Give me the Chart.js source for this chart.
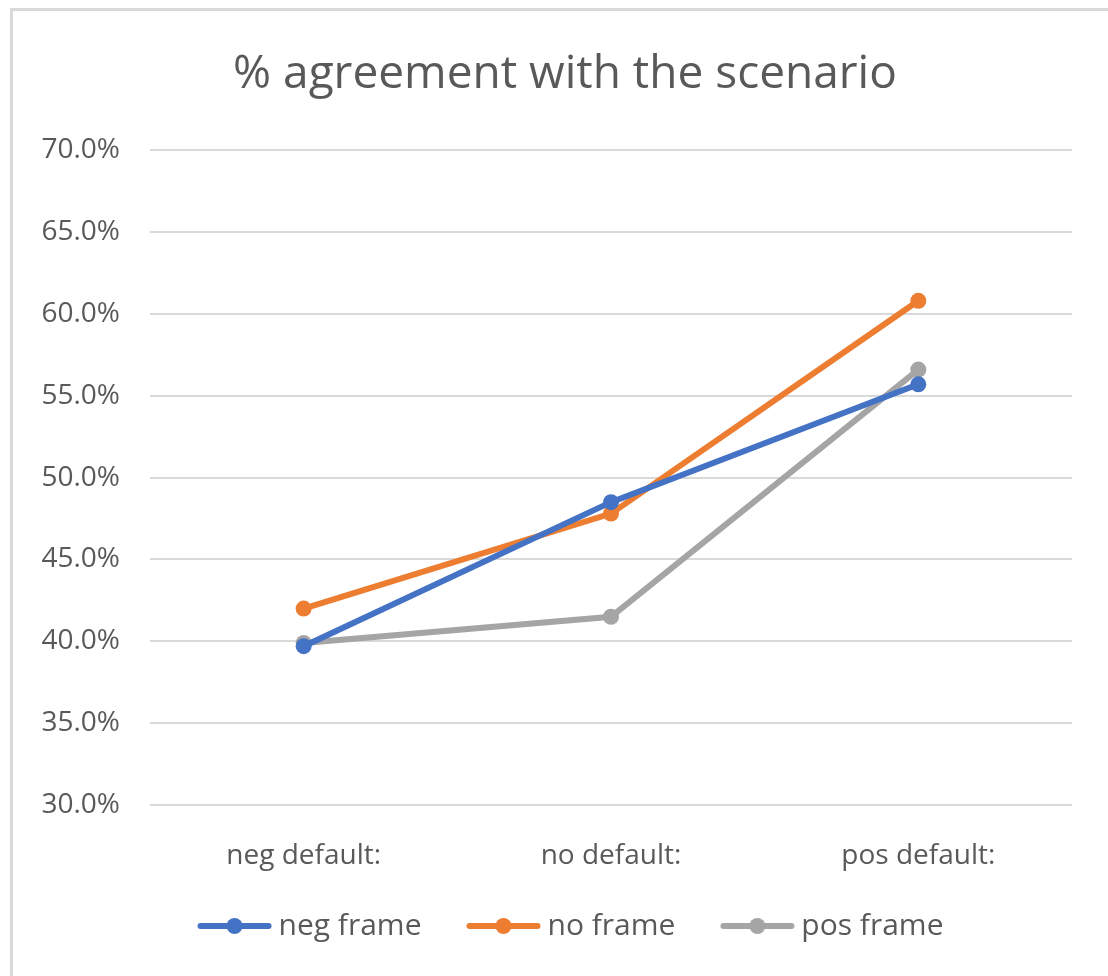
<!DOCTYPE html>
<html>
<head>
<meta charset="utf-8">
<script src="https://cdn.jsdelivr.net/npm/chart.js@4"></script>
<style>
  html, body { margin: 0; padding: 0; background: #fff; overflow: hidden; }
  #frame {
    position: absolute; left: 10px; top: 8px;
    width: 1104px; height: 980px;
    border: 3px solid #d9d9d9; background: #fff;
  }
  #wrap { position: absolute; left: 0; top: 0; width: 1104px; height: 966px; }
</style>
</head>
<body>
<div id="frame"><div id="wrap"><canvas id="chartData"></canvas></div></div>
<script>
var categories = ['neg default:', 'no default:', 'pos default:'];
var seriesNames = ['neg frame', 'no frame', 'pos frame'];
var negFrame = [39.7, 48.5, 55.7];
var noFrame = [42.0, 47.8, 60.8];
var posFrame = [39.9, 41.5, 56.6];
var yTicks = [30, 35, 40, 45, 50, 55, 60, 65, 70];
var colors = ['#4472c4', '#ed7d31', '#a5a5a5'];

var fontFamily = '"Open Sans", "Noto Sans", sans-serif';
var textColor = '#595959';

// legend swatch: short line with a dot in the middle, sitting right next to the label text
function legendSwatch(color) {
    var c = document.createElement('canvas');
    c.width = 94;
    c.height = 20;
    var g = c.getContext('2d');
    g.strokeStyle = color;
    g.lineWidth = 6;
    g.lineCap = 'round';
    g.beginPath();
    g.moveTo(22.5, 10);
    g.lineTo(90.5, 10);
    g.stroke();
    g.fillStyle = color;
    g.beginPath();
    g.arc(56.5, 10, 8, 0, Math.PI * 2);
    g.fill();
    return c;
}

function makeSet(name, data, color) {
    return {
        label: name,
        data: data,
        borderColor: color,
        backgroundColor: color,
        borderWidth: 6,
        pointRadius: 8,
        pointHoverRadius: 8,
        pointBorderWidth: 0,
        tension: 0
    };
}

var ctx = document.getElementById('chartData').getContext('2d');
var chartData = new Chart(ctx, {
    type: 'line',
    data: {
        labels: categories,
        datasets: [
            makeSet(seriesNames[0], negFrame, colors[0]),
            makeSet(seriesNames[1], noFrame, colors[1]),
            makeSet(seriesNames[2], posFrame, colors[2])
        ]
    },
    options: {
        responsive: true,
        maintainAspectRatio: false,
        animation: false,
        layout: { padding: { left: 20, right: 20, top: 0, bottom: 26 } },
        plugins: {
            title: {
                display: true,
                text: '% agreement with the scenario',
                color: textColor,
                font: { family: fontFamily, size: 46, weight: 'normal' },
                padding: { top: 36, bottom: 48 }
            },
            legend: {
                position: 'bottom',
                labels: {
                    usePointStyle: true,
                    pointStyleWidth: 77,
                    padding: 34,
                    color: textColor,
                    font: { family: fontFamily, size: 30 },
                    generateLabels: function (chart) {
                        return chart.data.datasets.map(function (ds, i) {
                            return {
                                text: ds.label,
                                fillStyle: ds.borderColor,
                                strokeStyle: ds.borderColor,
                                lineWidth: 0,
                                pointStyle: legendSwatch(ds.borderColor),
                                fontColor: textColor,
                                datasetIndex: i
                            };
                        });
                    }
                }
            },
            tooltip: { enabled: false }
        },
        scales: {
            x: {
                offset: true,
                grid: { display: false, drawTicks: false },
                border: { display: false },
                ticks: {
                    color: textColor,
                    padding: 34,
                    font: { family: fontFamily, size: 28 }
                },
                afterFit: function (scale) { scale.height = 72; }
            },
            y: {
                min: 30,
                max: 70,
                afterBuildTicks: function (scale) {
                    scale.ticks = yTicks.map(function (v) { return { value: v }; });
                },
                grid: { color: '#d9d9d9', lineWidth: 2, drawTicks: false },
                border: { display: false },
                ticks: {
                    color: textColor,
                    padding: 30,
                    font: { family: fontFamily, size: 28 },
                    callback: function (v) { return v.toFixed(1) + '%'; }
                },
                afterFit: function (scale) { scale.width = 117; }
            },
            // empty strip on the right so the plot ends short of the frame
            yRight: {
                position: 'right',
                min: 30,
                max: 70,
                grid: { display: false, drawTicks: false },
                border: { display: false },
                ticks: { display: false },
                afterFit: function (scale) { scale.width = 25; }
            }
        }
    }
});
</script>
</body>
</html>
